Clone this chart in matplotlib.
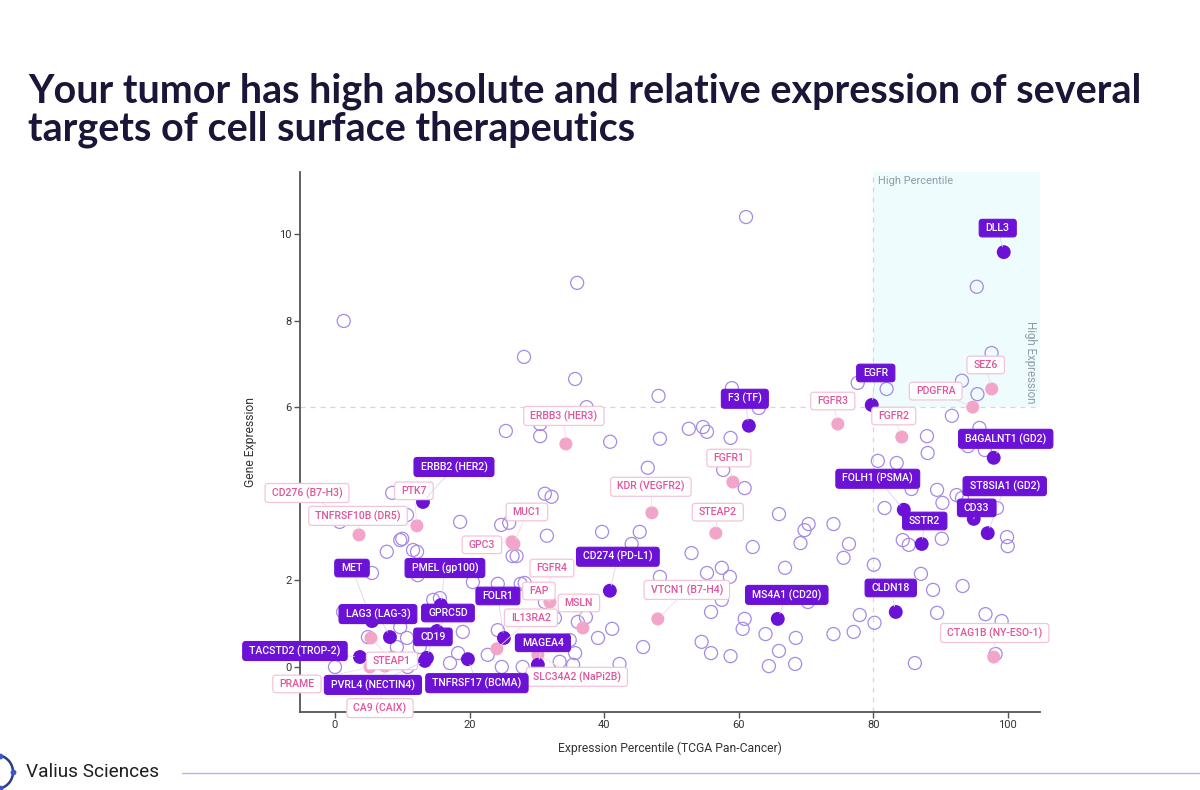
import matplotlib
matplotlib.use("Agg")
import matplotlib.pyplot as plt
from matplotlib.patches import Rectangle, Arc
from matplotlib.path import Path

# ---------------- data ----------------
other_x = [1.3, 36.0, 28.1, 35.7, 48.1, 37.4, 25.4, 30.5, 30.5, 40.9,
           48.3, 52.6, 54.7, 55.3, 58.8, 59.0, 46.5, 61.1, 63.0, 77.7,
           82.0, 95.4, 97.6, 93.2, 95.5, 91.7, 88.0, 88.1, 95.8, 94.1,
           96.6, 80.7, 83.5, 89.5, 92.4, 93.2, 81.7, 85.7, 90.3, 98.4,
           99.9, 100.0, 84.4, 85.3, 90.2, 66.0, 60.9, 69.8, 70.4, 69.2,
           74.1, 76.4, 75.6, 62.1, 66.9, 80.1, 87.1, 88.9, 93.3, 89.5,
           96.7, 99.1, 98.2, 86.2, 78.0, 80.2, 77.1, 74.1, 60.9, 60.6,
           64.0, 68.5, 66.0, 64.5, 68.4, 45.3, 53.0, 55.3, 57.5, 58.7,
           48.3, 55.9, 57.5, 54.5, 55.9, 58.8, 45.8, 41.2, 42.3, 70.3,
           57.7, 31.2, 32.2, 18.6, 24.7, 25.9, 31.5, 39.7, 26.4, 27.0,
           20.5, 24.2, 27.6, 44.1, 36.1, 37.3, 32.7, 9.7, 7.7, 11.6,
           12.2, 14.6, 15.6, 39.1, 9.7, 9.2, 10.8, 18.3, 17.1, 22.7,
           24.8, 27.9, 35.7, 0.0, 1.2, 4.9, 12.6, 19.0, 24.2, 33.4,
           35.4, 8.5, 10.0, 5.5, 12.3, 0.7, 8.5, 10.7, 34.9, 28.2,
           31.2, 7.4, 10.7]
other_y = [7.99, 8.87, 7.16, 6.65, 6.26, 6.00, 5.45, 5.33, 5.61, 5.20,
           5.27, 5.50, 5.54, 5.43, 5.29, 6.44, 4.60, 10.39, 5.98, 6.56,
           6.42, 8.78, 7.25, 6.61, 6.30, 5.80, 5.33, 4.94, 5.52, 5.10,
           5.01, 4.76, 4.71, 4.09, 3.97, 3.90, 3.67, 4.11, 3.79, 3.67,
           3.00, 2.79, 2.93, 2.82, 2.96, 3.53, 4.13, 3.16, 3.30, 2.86,
           3.30, 2.84, 2.52, 2.77, 2.29, 2.36, 2.15, 1.78, 1.87, 1.25,
           1.22, 1.06, 0.30, 0.09, 1.20, 1.02, 0.81, 0.76, 1.11, 0.88,
           0.76, 0.67, 0.37, 0.02, 0.07, 3.12, 2.63, 2.17, 2.29, 2.08,
           2.08, 1.27, 1.55, 0.58, 0.32, 0.25, 0.46, 0.88, 0.07, 1.50,
           4.55, 4.00, 3.93, 3.35, 3.28, 3.33, 3.03, 3.12, 2.56, 2.56,
           1.96, 1.92, 1.92, 2.84, 1.04, 1.15, 1.13, 2.93, 2.66, 2.70,
           2.66, 1.55, 1.59, 0.67, 0.92, 0.46, 0.00, 0.32, 0.09, 0.28,
           0.00, 0.00, 0.32, 0.00, 1.27, 0.69, 0.46, 0.81, 0.85, 0.12,
           0.05, 4.02, 2.96, 2.17, 2.12, 3.35, 0.21, 0.67, 0.62, 1.94,
           1.50, 3.44, 3.51]

# highlighted targets (dark purple)
target_names = ["DLL3", "EGFR", "F3 (TF)", "B4GALNT1 (GD2)", "FOLH1 (PSMA)",
                "ST8SIA1 (GD2)", "CD33", "SSTR2", "CLDN18", "MS4A1 (CD20)",
                "CD274 (PD-L1)", "ERBB2 (HER2)", "MET", "PMEL (gp100)",
                "LAG3 (LAG-3)", "GPRC5D", "CD19", "TACSTD2 (TROP-2)",
                "PVRL4 (NECTIN4)", "TNFRSF17 (BCMA)", "FOLR1", "MAGEA4"]
target_x = [99.41, 79.79, 61.52, 97.92, 84.55, 97.03, 94.95, 87.22, 83.36, 65.82,
            40.86, 13.08, 5.50, 15.75, 8.17, 15.16, 13.67, 3.71, 13.37, 19.76,
            25.11, 30.16]
target_y = [9.58, 6.05, 5.57, 4.83, 3.63, 3.09, 3.42, 2.84, 1.27, 1.11,
            1.76, 3.81, 1.06, 1.43, 0.69, 0.83, 0.21, 0.23, 0.14, 0.18,
            0.67, 0.05]

# other targets (pink)
pink_names = ["SEZ6", "PDGFRA", "FGFR2", "FGFR3", "ERBB3 (HER3)", "FGFR1",
              "KDR (VEGFR2)", "STEAP2", "MUC1", "GPC3", "FGFR4", "FAP", "MSLN",
              "IL13RA2", "VTCN1 (B7-H4)", "CTAG1B (NY-ESO-1)", "CD276 (B7-H3)",
              "TNFRSF10B (DR5)", "PTK7", "STEAP1", "PRAME", "CA9 (CAIX)",
              "SLC34A2 (NaPi2B)"]
pink_x = [97.62, 94.80, 84.25, 74.74, 34.32, 59.14, 47.10, 56.61, 26.60, 26.30,
          31.65, 31.95, 36.85, 24.07, 47.99, 97.92, 1.49, 3.57, 12.18, 5.35,
          5.20, 7.43, 30.16]
pink_y = [6.42, 6.00, 5.31, 5.61, 5.15, 4.27, 3.56, 3.09, 2.84, 2.89,
          1.73, 1.50, 0.90, 0.42, 1.11, 0.23, 3.44, 3.05, 3.26, 0.67,
          0.00, 0.02, 0.28]

x_ticks = [0, 20, 40, 60, 80, 100]
y_ticks = [0, 2, 4, 6, 8, 10]
y_tick_labels = ["0", "2", "", "6", "8", "10"]   # "4" is hidden behind a label in the reference
pct_threshold = 80
expr_threshold = 6

# ---------------- label layout (offsets in pixels) ----------------
target_offsets = [(-6, 24), (4, 32), (-4, 27), (12, 19), (-26, 31),
                  (17, 47), (3, 11), (3, 23), (-5, 24), (9, 24),
                  (8, 34), (31, 35), (-20, 53), (4, 37),
                  (-12, 23), (11, 18), (6, 21), (-65, 6),
                  (-52, -24), (9, -24), (-6, 42), (5, 22)]
pink_offsets = [(-6, 24), (-37, 16), (-8, 21), (-5, 23), (-2, 28), (-4, 24),
                (-1, 26), (2, 21), (13, 32), (-30, -3), (4, 24), (-11, 11), (-4, 25),
                (34, 31), (29, 29), (1, 24), (-38, 25),
                (-1, 19), (-3, 35), (21, -23), (-73, -17), (-5, -42),
                (39, -22)]

# ---------------- styles ----------------
DARK = "#6b12d6"
PINK = "#f2a5c8"
PINK_TXT = "#e0559b"
PINK_EDGE = "#f4c4da"
RING = "#a68ae4"
FONT = "Roboto"


def make_box(padx, pady, rad):
    def box(x0, y0, width, height, mutation_size):
        px, py, r = padx * mutation_size, pady * mutation_size, rad * mutation_size
        x0, y0 = x0 - px, y0 - py
        x1, y1 = x0 + width + 2 * px, y0 + height + 2 * py
        r = min(r, (x1 - x0) / 2, (y1 - y0) / 2)
        verts = [(x0 + r, y0), (x1 - r, y0), (x1, y0), (x1, y0 + r),
                 (x1, y1 - r), (x1, y1), (x1 - r, y1),
                 (x0 + r, y1), (x0, y1), (x0, y1 - r),
                 (x0, y0 + r), (x0, y0), (x0 + r, y0), (x0 + r, y0)]
        codes = [Path.MOVETO, Path.LINETO, Path.CURVE3, Path.CURVE3,
                 Path.LINETO, Path.CURVE3, Path.CURVE3,
                 Path.LINETO, Path.CURVE3, Path.CURVE3,
                 Path.LINETO, Path.CURVE3, Path.CURVE3, Path.CLOSEPOLY]
        return Path(verts, codes)
    return box


label_box = make_box(0.62, 0.36, 0.30)

plt.rcParams["font.family"] = [FONT, "DejaVu Sans"]

fig = plt.figure(figsize=(12, 7.9), dpi=100)
fig.patch.set_facecolor("white")
ax = fig.add_axes([300 / 1200, 1 - 712 / 790, 740 / 1200, 540 / 790])
ax.set_xlim(-5.2, 104.8)
ax.set_ylim(-1.04, 11.43)

# high quadrant
ax.add_patch(Rectangle((pct_threshold, expr_threshold), 200, 200,
                       facecolor="#effcfd", edgecolor="none", zorder=0.5))
ax.axvline(pct_threshold, color="#d3d6dc", lw=0.9, ls=(0, (4, 4)), zorder=0.8)
ax.axhline(expr_threshold, color="#d3d6dc", lw=0.9, ls=(0, (4, 4)), zorder=0.8)
ax.text(80.7, 11.22, "High Percentile", fontsize=8, color="#8e9ca9",
        ha="left", va="center", zorder=1)
ax.text(103.4, 7.04, "High Expression", fontsize=8.3, color="#8e9ca9",
        ha="center", va="center", rotation=270, zorder=1)

# points
ax.scatter(other_x, other_y, s=88, facecolors="none", edgecolors=RING,
           linewidths=0.9, zorder=3)
ax.scatter(pink_x, pink_y, s=88, color=PINK, edgecolors="none", zorder=4)
ax.scatter(target_x, target_y, s=100, color=DARK, edgecolors="none", zorder=5)

# labels
for name, x, y, off in zip(pink_names, pink_x, pink_y, pink_offsets):
    ax.annotate(name, xy=(x, y), xytext=off, textcoords="offset pixels",
                ha="center", va="center", fontsize=7.6, color=PINK_TXT,
                fontweight="medium",
                bbox=dict(boxstyle=label_box, fc="white", ec=PINK_EDGE, lw=0.9),
                arrowprops=dict(arrowstyle="-", color="#f1dbe6", lw=0.6,
                                shrinkA=0, shrinkB=4),
                zorder=7, annotation_clip=False)
for name, x, y, off in zip(target_names, target_x, target_y, target_offsets):
    ax.annotate(name, xy=(x, y), xytext=off, textcoords="offset pixels",
                ha="center", va="center", fontsize=7.6, color="white",
                fontweight="medium",
                bbox=dict(boxstyle=label_box, fc=DARK, ec=DARK, lw=0.8),
                arrowprops=dict(arrowstyle="-", color="#ddd3f1", lw=0.6,
                                shrinkA=0, shrinkB=4),
                zorder=8, annotation_clip=False)

# axes styling
for side in ["top", "right"]:
    ax.spines[side].set_visible(False)
for side in ["left", "bottom"]:
    ax.spines[side].set_color("#555555")
    ax.spines[side].set_linewidth(1.3)
ax.set_xticks(x_ticks)
ax.set_yticks(y_ticks)
ax.set_yticklabels(y_tick_labels)
ax.tick_params(direction="out", length=4, width=1, color="#555555",
               labelsize=8, labelcolor="#333333", pad=2)
ax.set_xlabel("Expression Percentile (TCGA Pan-Cancer)", fontsize=8.7,
              color="#333333", labelpad=8)
ax.set_ylabel("Gene Expression", fontsize=8.7, color="#333333", labelpad=16)

# ---------------- title & footer ----------------
renderer = fig.canvas.get_renderer()
t1 = fig.text(28 / 1200, 1 - 102 / 790,
              "Your tumor has high absolute and relative expression of several",
              fontsize=28, fontweight="bold", color="#1b1638", family="Lato",
              ha="left", va="baseline")
w = t1.get_window_extent(renderer).width
fs = 28 * 1114 / w
t1.set_fontsize(fs)
fig.text(28 / 1200, 1 - 141 / 790, "targets of cell surface therapeutics",
         fontsize=fs, fontweight="bold", color="#1b1638", family="Lato",
         ha="left", va="baseline")

ov = fig.add_axes([0, 0, 1, 1], zorder=-1)
ov.set_xlim(0, 1200)
ov.set_ylim(790, 0)
ov.axis("off")
ov.plot([182, 1200], [773, 773], color="#caa8f2", lw=1.0)
ov.add_patch(Arc((-4, 772), 34, 34, theta1=-75, theta2=75, color="#2a3b8c", lw=1.8))
ov.scatter([0.4, 13, 0.4], [755.6, 772, 788.4], s=10, color="#3c55d0", zorder=3)
tv = ov.text(26, 772, "Valius Sciences", fontsize=14, color="#1f1f1f",
             ha="left", va="center", family="Roboto")
wv = tv.get_window_extent(renderer).width
tv.set_fontsize(14 * 134 / wv)

fig.savefig("out.png", dpi=100, facecolor="white")
